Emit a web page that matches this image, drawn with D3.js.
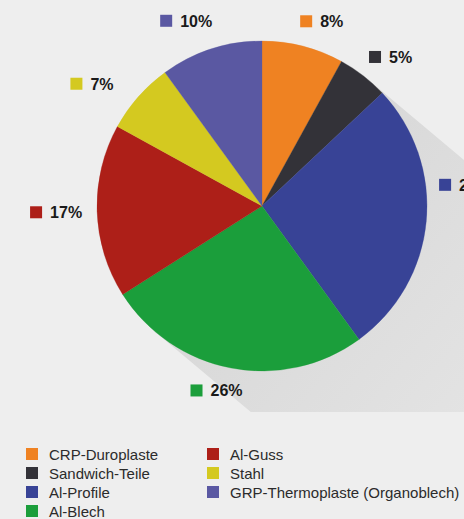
<!DOCTYPE html>
<html>
<head>
<meta charset="utf-8">
<script src="https://cdn.jsdelivr.net/npm/d3@7"></script>
<style>
  html, body { margin: 0; padding: 0; background: #eeeeee; }
  svg { display: block; font-family: "Liberation Sans", Arial, Helvetica, sans-serif; }
</style>
</head>
<body>
<svg id="chart" width="464" height="519"></svg>
<script>
// Material shares (percent), clockwise from 12 o'clock
const categories = ["CRP-Duroplaste", "Sandwich-Teile", "Al-Profile", "Al-Blech", "Al-Guss", "Stahl", "GRP-Thermoplaste (Organoblech)"];
const shares = [8, 5, 27, 26, 17, 7, 10];
const colors = ["#ef8222", "#333238", "#384396", "#1b9e3b", "#ad1f18", "#d4c920", "#5a58a2"];

// Legend columns: first four entries left, remaining three right
const legendColumns = [[0, 1, 2, 3], [4, 5, 6]];

// Hand-tuned label nudges (dx, dy) off the radial anchor
const labelNudge = [[10, 9], [6, 9], [4, -40], [-8, -12], [-6, 0], [-20, 10], [-14, 5]];

const width = 464, height = 519;
const cx = 262, cy = 206, radius = 165;
const shadowAngle = 40 * Math.PI / 180;

const svg = d3.select("#chart");

svg.append("rect").attr("width", width).attr("height", height).attr("fill", "#eeeeee");

// Long shadow cast towards the lower right
const defs = svg.append("defs");
const dx = Math.cos(shadowAngle), dy = Math.sin(shadowAngle);
const grad = defs.append("linearGradient")
  .attr("id", "shadowGrad")
  .attr("gradientUnits", "userSpaceOnUse")
  .attr("x1", cx).attr("y1", cy)
  .attr("x2", cx + dx * 320).attr("y2", cy + dy * 320);
grad.append("stop").attr("offset", "0").attr("stop-color", "#d8d8d8");
grad.append("stop").attr("offset", "1").attr("stop-color", "#e4e4e4");

defs.append("clipPath").attr("id", "shadowClip")
  .append("rect").attr("x", 0).attr("y", 0).attr("width", width).attr("height", 412);

const nx = -dy, ny = dx;
const lowX = cx + radius * nx, lowY = cy + radius * ny;
const upX = cx - radius * nx, upY = cy - radius * ny;
const L = 700;
const shadowPath = d3.path();
shadowPath.moveTo(upX, upY);
shadowPath.lineTo(upX + dx * L, upY + dy * L);
shadowPath.lineTo(lowX + dx * L, lowY + dy * L);
shadowPath.lineTo(lowX, lowY);
shadowPath.arc(cx, cy, radius, Math.atan2(ny, nx), Math.atan2(-ny, -nx), false);
shadowPath.closePath();

svg.append("path")
  .attr("d", shadowPath.toString())
  .attr("fill", "url(#shadowGrad)")
  .attr("clip-path", "url(#shadowClip)");

// Pie
const pie = d3.pie().sort(null).value(d => d)(shares);
const arc = d3.arc().innerRadius(0).outerRadius(radius);
const g = svg.append("g").attr("transform", `translate(${cx},${cy})`);

g.selectAll("path.slice")
  .data(pie)
  .join("path")
  .attr("class", "slice")
  .attr("d", arc)
  .attr("fill", (d, i) => colors[i])
  .attr("stroke", (d, i) => colors[i])
  .attr("stroke-width", 0.3);

// Percentage labels around the pie
const labelArc = d3.arc().innerRadius(200).outerRadius(200);
const labels = g.selectAll("g.label")
  .data(pie)
  .join("g")
  .attr("class", "label");

labels.each(function (d, i) {
  const sel = d3.select(this);
  const sq = 12, gap = 8;
  const txt = sel.append("text")
    .attr("font-size", 16)
    .attr("font-weight", "bold")
    .attr("fill", "#1a1a1a")
    .text(d.data + "%");
  const tw = txt.node().getComputedTextLength();
  const total = sq + gap + tw;
  const [px, py] = labelArc.centroid(d);
  const x0 = px + labelNudge[i][0] - total / 2;
  const yc = py + labelNudge[i][1];
  sel.insert("rect", "text")
    .attr("x", x0).attr("y", yc - sq / 2)
    .attr("width", sq).attr("height", sq)
    .attr("fill", colors[i]);
  txt.attr("x", x0 + sq + gap).attr("y", yc + 6);
});

// Legend
const legend = svg.append("g").attr("transform", "translate(26,448)");
const colX = [0, 181];
const rowH = 19;
legendColumns.forEach((col, c) => {
  col.forEach((idx, r) => {
    const item = legend.append("g").attr("transform", `translate(${colX[c]},${r * rowH})`);
    item.append("rect").attr("x", 0).attr("y", 0).attr("width", 12).attr("height", 12).attr("fill", colors[idx]);
    item.append("text")
      .attr("x", 23).attr("y", 11.5)
      .attr("font-size", 15)
      .attr("fill", "#2b2b2b")
      .text(categories[idx]);
  });
});
</script>
</body>
</html>
